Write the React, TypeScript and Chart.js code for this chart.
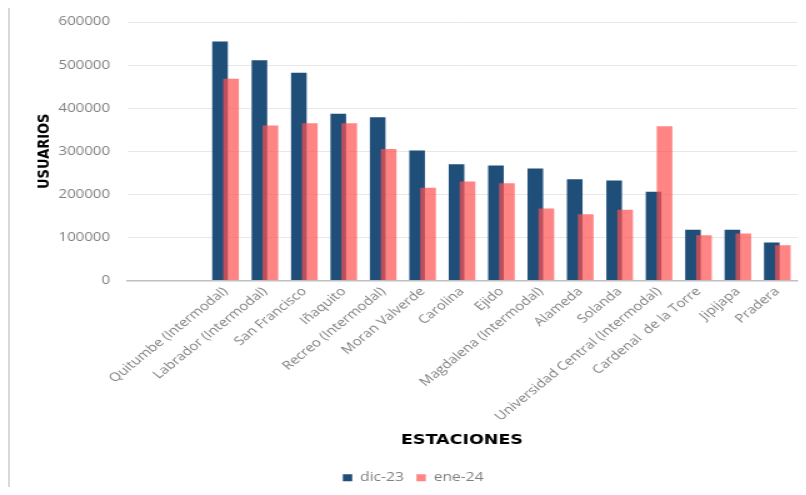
import React, { useEffect, useRef } from 'react';
import { Chart, registerables } from 'chart.js';

Chart.register(...registerables);

const categories = [
  '',
  '',
  'Quitumbe (Intermodal)',
  'Labrador (Intermodal)',
  'San Francisco',
  'Iñaquito',
  'Recreo (Intermodal)',
  'Moran Valverde',
  'Carolina',
  'Ejido',
  'Magdalena (Intermodal)',
  'Alameda',
  'Solanda',
  'Universidad Central (Intermodal)',
  'Cardenal  de la Torre',
  'Jipijapa',
  'Pradera',
];

const dic23 = [null, null, 555000, 511000, 482000, 387000, 379000, 302000, 270000, 267000, 260000, 235000, 232000, 206000, 118000, 118000, 88000];
const ene24 = [null, null, 468000, 360000, 365000, 365000, 305000, 215000, 230000, 226000, 167000, 154000, 164000, 358000, 105000, 109000, 82000];

const seriesNames = ['dic-23', 'ene-24'];
const yTicks = [0, 100000, 200000, 300000, 400000, 500000, 600000];

const drawOrderPlugin = {
  id: 'drawOrder',
  beforeDatasetsDraw(chart: any) {
    const metas = chart.getSortedVisibleDatasetMetas();
    for (const m of metas) chart._drawDataset(m);
    return false;
  },
};

export default function App() {
  const ref = useRef<HTMLCanvasElement>(null);

  useEffect(() => {
    const gray = '#7f7f7f';
    const font = "'Open Sans', sans-serif";
    const chart = new Chart(ref.current as HTMLCanvasElement, {
      type: 'bar',
      data: {
        labels: categories,
        datasets: [
          {
            label: seriesNames[0],
            data: dic23,
            backgroundColor: '#1F4E79',
            borderWidth: 0,
            categoryPercentage: 0.558,
            barPercentage: 1.42,
          },
          {
            label: seriesNames[1],
            data: ene24,
            backgroundColor: 'rgba(255,80,80,0.7)',
            borderWidth: 0,
            categoryPercentage: 0.558,
            barPercentage: 1.42,
          },
        ],
      },
      plugins: [drawOrderPlugin],
      options: {
        animation: false,
        responsive: true,
        maintainAspectRatio: false,
        layout: { padding: { left: 15.6, right: 0.8, top: 14, bottom: 14 } },
        plugins: {
          tooltip: { enabled: false },
          legend: {
            position: 'bottom',
            labels: {
              boxWidth: 7.5,
              boxHeight: 7,
              padding: 10,
              color: gray,
              font: { family: font, size: 12.5 },
            },
          },
        },
        scales: {
          x: {
            offset: true,
            grid: { display: false, drawTicks: false },
            border: { display: true, color: '#c0c0c0', width: 1.5 },
            ticks: {
              autoSkip: false,
              minRotation: 45,
              maxRotation: 45,
              padding: 4,
              color: gray,
              font: { family: font, size: 12 },
            },
            title: {
              display: true,
              text: 'ESTACIONES',
              color: '#000',
              font: { family: "'DejaVu Sans', sans-serif", size: 14, weight: 'bold' },
              padding: { top: 4, bottom: 13 },
            },
            afterFit: (s: any) => {
              s.height = 181;
              s.paddingLeft = 0;
              s.paddingRight = 0;
            },
          },
          y: {
            min: 0,
            max: 600000,
            grid: {
              drawTicks: false,
              color: (ctx: any) => (ctx.tick && ctx.tick.value === 0 ? 'rgba(0,0,0,0)' : '#e8e8e8'),
              lineWidth: 1,
            },
            border: { display: false },
            ticks: {
              stepSize: 100000,
              padding: 13.6,
              color: gray,
              font: { family: font, size: 12 },
              callback: (v: any) => String(v),
            },
            afterBuildTicks: (s: any) => {
              s.ticks = yTicks.map((v) => ({ value: v }));
            },
            title: {
              display: true,
              text: 'USUARIOS',
              color: '#000',
              font: { family: "'DejaVu Sans', sans-serif", size: 13, weight: 'bold' },
              padding: { top: 4, bottom: 4 },
            },
            afterFit: (s: any) => {
              s.width = 78;
              s.paddingTop = 0;
              s.paddingBottom = 0;
            },
          },
        },
      },
    } as any);
    return () => chart.destroy();
  }, []);

  return (
    <div
      style={{
        marginTop: -2,
        width: 790,
        height: 481,
        boxSizing: 'border-box',
        borderTop: '2px solid #d9d9d9',
        borderLeft: '2px solid #d9d9d9',
        overflow: 'hidden',
        background: '#fff',
      }}
    >
      <div
        style={{
          width: 630.4,
          height: 500,
          transform: 'scaleX(1.25)',
          transformOrigin: '0 0',
          position: 'relative',
        }}
      >
        <canvas ref={ref} />
      </div>
    </div>
  );
}
